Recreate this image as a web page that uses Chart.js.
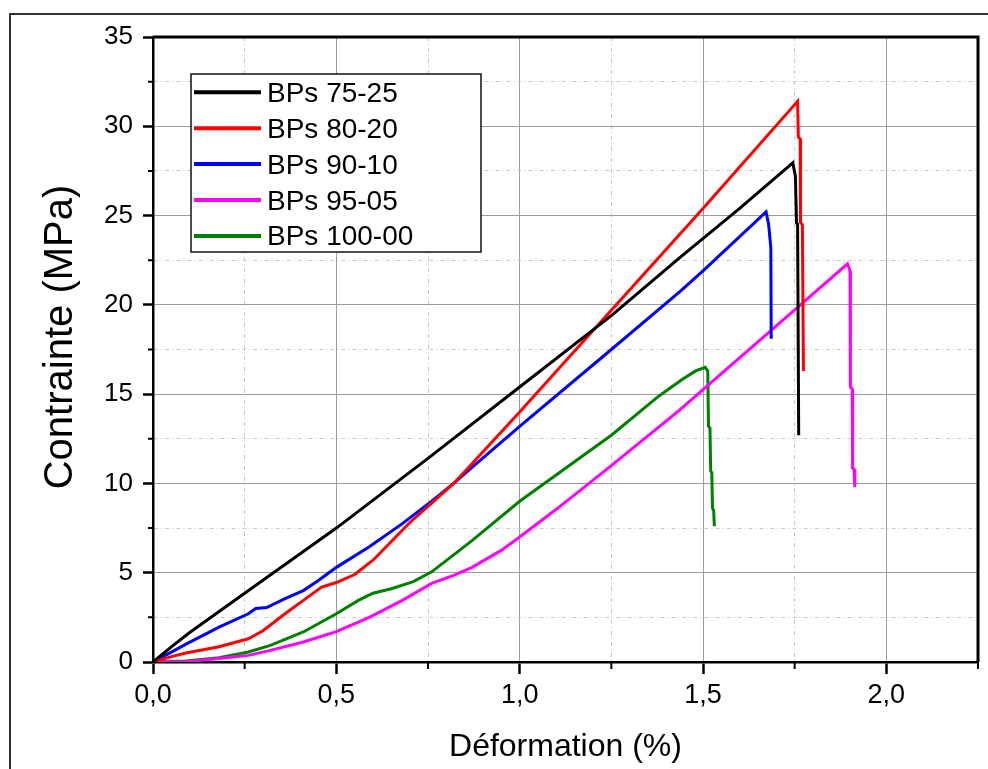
<!DOCTYPE html>
<html>
<head>
<meta charset="utf-8">
<title>Contrainte - déformation</title>
<script src="https://cdn.jsdelivr.net/npm/chart.js@4/dist/chart.umd.min.js"></script>
<style>
  body { margin: 0; background: #fff; }
  canvas { display: block; }
</style>
</head>
<body>
<canvas id="stressChart" width="988" height="769"></canvas>
<script>
// déformation (%) / contrainte (MPa) pour chaque mélange
const strain7525 = [0, 0.05, 0.1, 0.25, 0.5, 0.75, 1.0, 1.25, 1.44, 1.6, 1.745, 1.752, 1.755, 1.758, 1.761];
const stress7525 = [0, 0.85, 1.65, 3.85, 7.5, 11.4, 15.4, 19.4, 22.7, 25.4, 27.95, 27.2, 24.6, 24.5, 12.7];

const strain8020 = [0, 0.05, 0.09, 0.18, 0.26, 0.3, 0.36, 0.41, 0.46, 0.5, 0.55, 0.6, 0.65, 0.7, 0.76, 0.82, 0.87, 1.0, 1.25, 1.5, 1.758, 1.76, 1.765, 1.766, 1.771, 1.774];
const stress8020 = [0, 0.3, 0.5, 0.85, 1.3, 1.75, 2.7, 3.45, 4.2, 4.45, 4.9, 5.7, 6.75, 7.8, 8.9, 10.0, 11.1, 14.0, 19.7, 25.4, 31.4, 29.4, 29.3, 24.6, 24.5, 16.3];

const strain9010 = [0, 0.05, 0.09, 0.18, 0.26, 0.28, 0.31, 0.36, 0.41, 0.45, 0.5, 0.59, 0.68, 0.76, 0.82, 0.87, 1.0, 1.25, 1.44, 1.5, 1.672, 1.679, 1.685, 1.686];
const stress9010 = [0, 0.55, 1.0, 1.95, 2.7, 3.0, 3.05, 3.55, 4.0, 4.55, 5.3, 6.45, 7.75, 9.0, 10.0, 10.9, 13.2, 17.5, 20.8, 21.9, 25.2, 24.5, 23.2, 18.1];

const strain9505 = [0, 0.09, 0.18, 0.26, 0.32, 0.41, 0.5, 0.59, 0.68, 0.76, 0.82, 0.87, 0.95, 1.0, 1.1, 1.25, 1.436, 1.5, 1.78, 1.894, 1.901, 1.902, 1.907, 1.908, 1.912, 1.914];
const stress9505 = [0, 0.02, 0.19, 0.37, 0.65, 1.12, 1.7, 2.5, 3.45, 4.4, 4.85, 5.3, 6.25, 7.0, 8.55, 11.0, 14.1, 15.25, 20.25, 22.3, 21.9, 15.4, 15.3, 10.85, 10.8, 9.8];

const strain10000 = [0, 0.09, 0.18, 0.26, 0.32, 0.41, 0.5, 0.56, 0.6, 0.65, 0.71, 0.76, 0.82, 0.87, 1.0, 1.25, 1.38, 1.445, 1.48, 1.506, 1.513, 1.515, 1.519, 1.521, 1.524, 1.526, 1.529, 1.531];
const stress10000 = [0, 0.06, 0.24, 0.56, 0.93, 1.68, 2.7, 3.45, 3.85, 4.1, 4.5, 5.05, 6.0, 6.8, 9.0, 12.7, 14.9, 15.85, 16.3, 16.5, 16.3, 13.2, 13.1, 10.7, 10.6, 8.6, 8.5, 7.6];

const blendLabels = ['BPs 75-25', 'BPs 80-20', 'BPs 90-10', 'BPs 95-05', 'BPs 100-00'];
const blendColors = ['#000000', '#ff0000', '#0000ff', '#ff00ff', '#008000'];
const strains = [strain7525, strain8020, strain9010, strain9505, strain10000];
const stresses = [stress7525, stress8020, stress9010, stress9505, stress10000];

const xMax = 2.25, xMinorStep = 0.25, xMajorStep = 0.5;
const yMax = 35, yMinorStep = 2.5, yMajorStep = 5;
const yTitle = 'Contrainte (MPa)';

const fontFamily = '"Liberation Sans", Arial, sans-serif';
Chart.defaults.font.family = fontFamily;
Chart.defaults.color = '#000';

function onStep(v, step) {
    return Math.abs(v / step - Math.round(v / step)) < 1e-6;
}

function toPoints(xs, ys) {
    return xs.map((x, i) => ({ x: x, y: ys[i] }));
}

const majorGrid = (step) => (ctx) => ctx.tick && onStep(ctx.tick.value, step) ? '#9c9c9c' : '#c8c8c8';
const majorTick = (step) => (ctx) => ctx.tick && onStep(ctx.tick.value, step) ? '#000' : 'rgba(0,0,0,0)';
const minorDash = (step) => (ctx) => ctx.tick && !onStep(ctx.tick.value, step) ? [4, 3, 1, 3] : [];

// fond blanc + cadre de la figure
const figureFrame = {
    id: 'figureFrame',
    beforeDraw(chart) {
        const ctx = chart.ctx;
        ctx.save();
        ctx.fillStyle = '#fff';
        ctx.fillRect(0, 0, chart.width, chart.height);
        ctx.strokeStyle = '#333';
        ctx.lineWidth = 2;
        ctx.beginPath();
        ctx.moveTo(10, chart.height);
        ctx.lineTo(10, 14);
        ctx.lineTo(chart.width, 14);
        ctx.stroke();
        ctx.restore();
    },
    afterDraw(chart) {
        const { ctx, chartArea, scales } = chart;
        const { left, right, top, bottom } = chartArea;
        ctx.save();
        // bords haut et droit
        ctx.strokeStyle = '#000';
        ctx.lineWidth = 3;
        ctx.beginPath();
        ctx.moveTo(left, top);
        ctx.lineTo(right, top);
        ctx.lineTo(right, bottom);
        ctx.stroke();

        // petites graduations
        ctx.lineWidth = 2;
        ctx.beginPath();
        scales.x.ticks.forEach(t => {
            if (onStep(t.value, xMajorStep)) return;
            const px = scales.x.getPixelForValue(t.value);
            ctx.moveTo(px, bottom);
            ctx.lineTo(px, bottom + 7);
        });
        scales.y.ticks.forEach(t => {
            if (onStep(t.value, yMajorStep)) return;
            const py = scales.y.getPixelForValue(t.value);
            ctx.moveTo(left - 5, py);
            ctx.lineTo(left, py);
        });
        ctx.stroke();

        // titre de l'axe vertical
        ctx.translate(72, 337);
        ctx.rotate(-Math.PI / 2);
        ctx.font = '40px ' + fontFamily;
        ctx.fillStyle = '#000';
        ctx.textAlign = 'center';
        ctx.textBaseline = 'alphabetic';
        ctx.fillText(yTitle, 0, 0);
        ctx.restore();
    }
};

// légende encadrée dans la zone du graphe
const boxedLegend = {
    id: 'boxedLegend',
    afterDraw(chart) {
        const ctx = chart.ctx;
        const boxX = 191, boxY = 74, boxW = 290, boxH = 178;
        const rowY = 92.3, rowGap = 35.9;
        ctx.save();
        ctx.fillStyle = '#fff';
        ctx.fillRect(boxX, boxY, boxW, boxH);
        ctx.strokeStyle = '#111';
        ctx.lineWidth = 1.5;
        ctx.strokeRect(boxX, boxY, boxW, boxH);
        ctx.font = '28px ' + fontFamily;
        ctx.textBaseline = 'alphabetic';
        ctx.textAlign = 'left';
        chart.data.datasets.forEach((ds, i) => {
            const y = rowY + i * rowGap;
            ctx.strokeStyle = ds.borderColor;
            ctx.lineWidth = 4;
            ctx.beginPath();
            ctx.moveTo(194, y);
            ctx.lineTo(261, y);
            ctx.stroke();
            ctx.fillStyle = '#000';
            ctx.fillText(ds.label, 267, y + 9.5);
        });
        ctx.restore();
    }
};

const ctx = document.getElementById('stressChart').getContext('2d');
const chart = new Chart(ctx, {
    type: 'line',
    data: {
        datasets: blendLabels.map((label, i) => ({
            label: label,
            data: toPoints(strains[i], stresses[i]),
            borderColor: blendColors[i],
            backgroundColor: blendColors[i],
            borderWidth: 3,
            pointRadius: 0,
            tension: 0,
            fill: false
        }))
    },
    options: {
        responsive: false,
        animation: false,
        events: [],
        layout: { padding: { top: 37, right: 10, left: 0, bottom: 0 } },
        plugins: {
            legend: { display: false },
            tooltip: { enabled: false }
        },
        scales: {
            x: {
                type: 'linear',
                min: 0,
                max: xMax,
                afterFit: (scale) => { scale.height = 107; },
                ticks: {
                    stepSize: xMinorStep,
                    autoSkip: false,
                    maxRotation: 0,
                    padding: 5,
                    font: { size: 27 },
                    callback: (v) => onStep(v, xMajorStep) ? v.toFixed(1).replace('.', ',') : ''
                },
                grid: {
                    color: majorGrid(xMajorStep),
                    lineWidth: 1,
                    tickLength: 12,
                    tickWidth: 2.5,
                    tickColor: majorTick(xMajorStep)
                },
                border: { display: true, color: '#000', width: 2.5, dash: minorDash(xMajorStep) },
                title: {
                    display: true,
                    text: 'Déformation (%)',
                    font: { size: 32 },
                    padding: { top: 0, bottom: 3 }
                }
            },
            y: {
                type: 'linear',
                min: 0,
                max: yMax,
                afterFit: (scale) => { scale.width = 153; },
                ticks: {
                    stepSize: yMinorStep,
                    autoSkip: false,
                    padding: 10,
                    font: { size: 26 },
                    callback: (v) => onStep(v, yMajorStep) ? String(v) : ''
                },
                grid: {
                    color: majorGrid(yMajorStep),
                    lineWidth: 1,
                    tickLength: 10,
                    tickWidth: 2.5,
                    tickColor: majorTick(yMajorStep)
                },
                border: { display: true, color: '#000', width: 2.5, dash: minorDash(yMajorStep) }
            }
        }
    },
    plugins: [figureFrame, boxedLegend]
});
</script>
</body>
</html>
